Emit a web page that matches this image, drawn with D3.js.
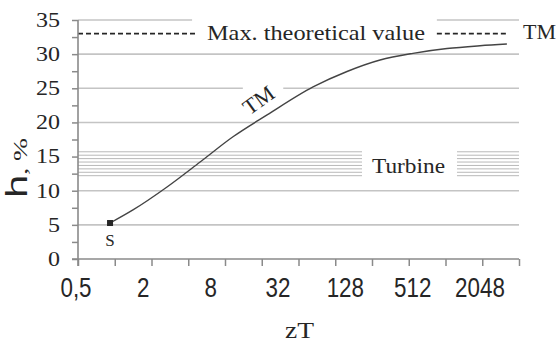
<!DOCTYPE html>
<html>
<head>
<meta charset="utf-8">
<script src="https://cdn.jsdelivr.net/npm/d3@7"></script>
<style>
  body { margin: 0; background: #fff; }
  svg { display: block; }
</style>
</head>
<body>
<div id="chart"></div>
<script>
// data
const zT = [0.915, 1.41, 2.68, 5.0, 9.3, 17.7, 42.1, 79.9, 149, 277, 527, 982, 1630];
const eff = [5.27, 7.18, 10.54, 14.2, 17.9, 21.1, 25.2, 27.46, 29.14, 30.12, 30.82, 31.23, 31.48];

const xTicks = [0.5, 1, 2, 4, 8, 16, 32, 64, 128, 256, 512, 1024, 2048];
const xLabelValues = [0.5, 2, 8, 32, 128, 512, 2048];
const xLabels = ["0,5", "2", "8", "32", "128", "512", "2048"];
const yTicks = [0, 5, 10, 15, 20, 25, 30, 35];
const yMinor = [0, 2.5, 5, 7.5, 10, 12.5, 15, 17.5, 20, 22.5, 25, 27.5, 30, 32.5, 35];

// grid lines and the zT spans they cover (gaps left for the labels)
const gridValues = [5, 10, 20, 25, 30, 35];
const gridSpans = [
  [[0.5, 2048]],
  [[0.5, 2048]],
  [[0.5, 2048]],
  [[0.5, 11.2], [24, 2048]],
  [[0.5, 2048]],
  [[0.5, 4.3], [435, 2048]]
];
const turbineValues = [12.2, 12.7, 13.2, 13.7, 14.2, 14.7, 15.2, 15.7];
const turbineSpans = [[0.5, 106], [636, 2048]];
const maxValue = 33;
const maxSpans = [[0.5, 4.8], [435, 1630]];

const SERIF = '"Liberation Serif", "Times New Roman", serif';
const SANS = '"Liberation Sans", Arial, sans-serif';
const ink = "#262626";

const width = 560, height = 343;
const svg = d3.select("#chart").append("svg")
  .attr("width", width).attr("height", height);

const x = d3.scaleLog().base(2).domain([0.5, 2048]).range([78, 519]);
const xLab = d3.scaleLog().base(2).domain([0.5, 2048]).range([76, 480]);
const y = d3.scaleLinear().domain([0, 35]).range([259, 20]);

// grid
const grid = svg.append("g").attr("stroke", "#c4c4c4").attr("stroke-width", 1.6);
gridValues.forEach((v, i) => {
  gridSpans[i].forEach(s => {
    grid.append("line")
      .attr("x1", x(s[0])).attr("x2", x(s[1]))
      .attr("y1", y(v)).attr("y2", y(v));
  });
});

const band = svg.append("g").attr("stroke", "#b8b8b8").attr("stroke-width", 1);
turbineValues.forEach(v => {
  turbineSpans.forEach(s => {
    band.append("line")
      .attr("x1", x(s[0])).attr("x2", x(s[1]))
      .attr("y1", y(v)).attr("y2", y(v));
  });
});

// max theoretical value (dashed)
maxSpans.forEach(s => {
  svg.append("line")
    .attr("x1", x(s[0])).attr("x2", x(s[1]))
    .attr("y1", y(maxValue)).attr("y2", y(maxValue))
    .attr("stroke", ink).attr("stroke-width", 1.6)
    .attr("stroke-dasharray", "5,3");
});

// axes
const yAx = svg.append("g").attr("transform", `translate(${x(0.5)},0)`)
  .call(d3.axisLeft(y).tickValues(yMinor).tickSize(6).tickFormat(""));
yAx.select(".domain").remove();
yAx.selectAll("line").attr("stroke", "#8a8a8a").attr("stroke-width", 1.5);

const yLab = svg.append("g").attr("transform", `translate(${x(0.5)},0)`)
  .call(d3.axisLeft(y).tickValues(yTicks).tickSize(0).tickPadding(18));
yLab.select(".domain").remove();
yLab.attr("font-family", SERIF);
yLab.selectAll("text")
  .style("font-family", SERIF)
  .attr("font-size", 20)
  .attr("fill", ink)
  .attr("x", -18 / 1.2)
  .attr("transform", "scale(1.2,1)");

const xAx = svg.append("g").attr("transform", `translate(0,${y(0)})`)
  .call(d3.axisBottom(x).tickValues(xTicks).tickSize(7).tickFormat(""));
xAx.select(".domain").remove();
xAx.selectAll("line").attr("stroke", "#8a8a8a").attr("stroke-width", 1.5);

const xLabG = svg.append("g").attr("transform", `translate(0,${y(0)})`)
  .call(d3.axisBottom(xLab).tickValues(xLabelValues).tickSize(0).tickPadding(18)
    .tickFormat((d, i) => xLabels[i]));
xLabG.select(".domain").remove();
xLabG.selectAll("text")
  .style("font-family", SANS)
  .attr("font-size", 28)
  .attr("fill", ink)
  .attr("transform", "scale(0.8,1)");
// keep the label centred on its tick after the horizontal squeeze
xLabG.selectAll(".tick").each(function(d) {
  d3.select(this).attr("transform", `translate(${xLab(d)},0)`);
});

// axis lines
svg.append("line")
  .attr("x1", x(0.5) - 6).attr("x2", x(2048))
  .attr("y1", y(0)).attr("y2", y(0))
  .attr("stroke", "#8a8a8a").attr("stroke-width", 1.6);
svg.append("line")
  .attr("x1", x(0.5)).attr("x2", x(0.5))
  .attr("y1", y(35)).attr("y2", y(0) + 7)
  .attr("stroke", "#8a8a8a").attr("stroke-width", 1.6);

// curve
const pts = zT.map((d, i) => [d, eff[i]]);
const line = d3.line().x(d => x(d[0])).y(d => y(d[1])).curve(d3.curveMonotoneX);
svg.append("path").datum(pts)
  .attr("d", line)
  .attr("fill", "none")
  .attr("stroke", "#444")
  .attr("stroke-width", 1.4);

svg.append("rect")
  .attr("x", x(zT[0]) - 3).attr("y", y(eff[0]) - 3)
  .attr("width", 6).attr("height", 6)
  .attr("fill", ink);

// labels
function label(txt, size) {
  return svg.append("text")
    .style("font-family", SERIF)
    .attr("font-size", size)
    .attr("fill", ink)
    .text(txt);
}

label("S", 17)
  .attr("x", x(zT[0])).attr("y", y(eff[0]) + 23)
  .attr("text-anchor", "middle");

label("Max. theoretical value", 21)
  .attr("x", 207).attr("y", y(maxValue) + 6)
  .attr("textLength", 218).attr("lengthAdjust", "spacingAndGlyphs");

label("TM", 21)
  .attr("x", 523).attr("y", y(maxValue) + 5.5)
  .attr("textLength", 33).attr("lengthAdjust", "spacingAndGlyphs");

label("Turbine", 22)
  .attr("x", 372).attr("y", y(13.95) + 9)
  .attr("textLength", 73).attr("lengthAdjust", "spacingAndGlyphs");

label("TM", 22)
  .attr("transform", `translate(${x(15)},${y(23.3)}) rotate(-36)`)
  .attr("text-anchor", "middle").attr("dy", "0.35em");

label("zT", 24)
  .attr("x", 285).attr("y", 338)
  .attr("textLength", 29).attr("lengthAdjust", "spacingAndGlyphs");

const yt = svg.append("text")
  .attr("transform", "translate(27,198) rotate(-90)")
  .attr("textLength", 60).attr("lengthAdjust", "spacingAndGlyphs")
  .attr("fill", ink);
yt.append("tspan").style("font-family", SANS).attr("font-size", 29).text("h");
yt.append("tspan").style("font-family", SERIF).attr("font-size", 19).text(", %");
</script>
</body>
</html>
